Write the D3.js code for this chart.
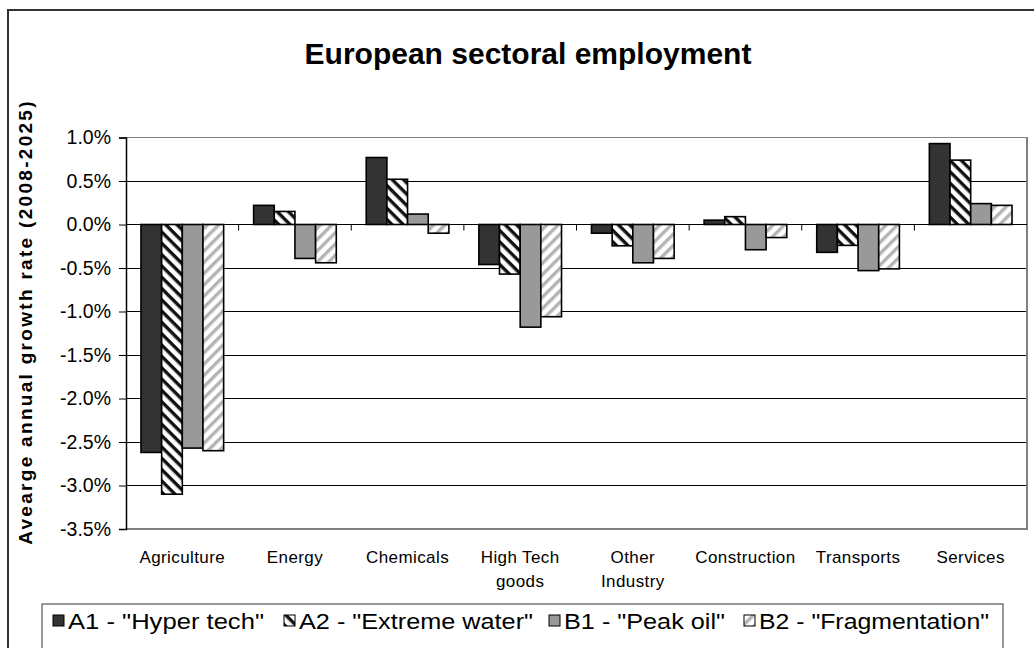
<!DOCTYPE html>
<html><head><meta charset="utf-8">
<script src="https://cdn.jsdelivr.net/npm/d3@7"></script>
<style>
html,body{margin:0;padding:0;background:#fff;}
svg{display:block;font-family:"Liberation Sans",Arial,sans-serif;}
</style></head>
<body><svg id="c" width="1034" height="648"></svg>
<script>
const categories = ["Agriculture","Energy","Chemicals","High Tech goods","Other Industry","Construction","Transports","Services"];
const categoryLines = [["Agriculture"],["Energy"],["Chemicals"],["High Tech","goods"],["Other","Industry"],["Construction"],["Transports"],["Services"]];
const seriesNames = ['A1 - "Hyper tech"','A2 - "Extreme water"','B1 - "Peak oil"','B2 - "Fragmentation"'];
const a1 = [-2.62, 0.22, 0.77, -0.46, -0.10, 0.05, -0.32, 0.93];
const a2 = [-3.10, 0.15, 0.52, -0.57, -0.245, 0.09, -0.24, 0.74];
const b1 = [-2.57, -0.39, 0.12, -1.18, -0.44, -0.29, -0.53, 0.24];
const b2 = [-2.60, -0.44, -0.10, -1.06, -0.39, -0.15, -0.51, 0.22];
const yTicks = [1.0, 0.5, 0.0, -0.5, -1.0, -1.5, -2.0, -2.5, -3.0, -3.5];
const title = "European sectoral employment";
const yTitle = "Avearge annual growth rate (2008-2025)";

const series = [a1, a2, b1, b2];
const fills = ["#333333", "url(#pA2)", "#999999", "url(#pB2)"];

const svg = d3.select("#c");
const defs = svg.append("defs");
const pA2 = defs.append("pattern").attr("id","pA2").attr("patternUnits","userSpaceOnUse")
  .attr("width",8).attr("height",8).attr("patternTransform","rotate(45)");
pA2.append("rect").attr("width",8).attr("height",8).attr("fill","#fff");
pA2.append("rect").attr("width",8).attr("height",3.4).attr("fill","#111");
const pB2 = defs.append("pattern").attr("id","pB2").attr("patternUnits","userSpaceOnUse")
  .attr("width",8).attr("height",8).attr("patternTransform","rotate(-45)");
pB2.append("rect").attr("width",8).attr("height",8).attr("fill","#fff");
pB2.append("rect").attr("width",8).attr("height",3.4).attr("fill","#b4b4b4");

svg.append("rect").attr("x",8).attr("y",10).attr("width",1040).attr("height",660)
  .attr("fill","none").attr("stroke","#333").attr("stroke-width",2);

const pLeft = 126, pRight = 1027, pTop = 137.5, pBottom = 529;
const x = d3.scaleBand().domain(categories).range([pLeft, pRight]).paddingInner(0.266).paddingOuter(0.133);
const xs = d3.scaleBand().domain(d3.range(4)).range([0, x.bandwidth()]);
const y = d3.scaleLinear().domain([-3.5, 1.0]).range([pBottom, pTop]);

svg.append("text").attr("x",528).attr("y",64).attr("text-anchor","middle")
  .attr("font-size",30).attr("font-weight","bold").attr("fill","#000").text(title);

svg.append("g").selectAll("line").data(yTicks.filter(d => d > -3.5 && d < 1.0)).join("line")
  .attr("x1",pLeft).attr("x2",pRight).attr("y1",d=>y(d)).attr("y2",d=>y(d))
  .attr("stroke","#000").attr("stroke-width",1).attr("shape-rendering","crispEdges");
svg.append("path").attr("d",`M${pLeft},${pTop}H${pRight}V${pBottom}H${pLeft}`)
  .attr("fill","none").attr("stroke","#808080").attr("stroke-width",1.5).attr("shape-rendering","crispEdges");

const groups = svg.append("g").selectAll("g").data(series).join("g")
  .attr("fill",(d,i)=>fills[i]);
groups.each(function(vals, si){
  d3.select(this).selectAll("rect").data(vals).join("rect")
    .attr("x",(d,ci)=>x(categories[ci]) + xs(si))
    .attr("width",xs.bandwidth())
    .attr("y",d=>y(Math.max(0,d)))
    .attr("height",d=>Math.abs(y(d)-y(0)))
    .attr("stroke","#000").attr("stroke-width",1.6);
});

const yAxis = d3.axisLeft(y).tickValues(yTicks).tickSize(7)
  .tickFormat(d => d3.format(".1f")(d).replace("\u2212","-") + "%");
const ga = svg.append("g").attr("transform",`translate(${pLeft},0)`).call(yAxis);
ga.select(".domain").attr("stroke","#000").attr("stroke-width",1.5);
ga.selectAll(".tick line").attr("stroke","#000");
ga.selectAll(".tick text").attr("font-size",19.5).attr("fill","#000").attr("font-family","Liberation Sans, Arial, sans-serif").attr("x",-15);

const bounds = d3.range(1, categories.length).map(i => pLeft + i * x.step());
svg.append("g").selectAll("line").data(bounds).join("line")
  .attr("x1",d=>d).attr("x2",d=>d).attr("y1",y(0)).attr("y2",y(0)+6)
  .attr("stroke","#000").attr("stroke-width",1);
svg.append("line").attr("x1",pLeft).attr("x2",pRight).attr("y1",y(0)).attr("y2",y(0))
  .attr("stroke","#000").attr("stroke-width",1.2);

const cl = svg.append("g").selectAll("text").data(categories).join("text")
  .attr("text-anchor","middle").attr("font-size",17).attr("fill","#000")
  .attr("letter-spacing","0.4")
  .attr("x",d=>x(d)+x.bandwidth()/2).attr("y",563);
cl.each(function(d,i){
  d3.select(this).selectAll("tspan").data(categoryLines[i]).join("tspan")
    .attr("x",x(d)+x.bandwidth()/2).attr("dy",(t,j)=>j===0?0:24).text(t=>t);
});

svg.append("text").attr("transform","translate(32,322) rotate(-90)")
  .attr("text-anchor","middle").attr("font-size",19).attr("font-weight","bold")
  .attr("letter-spacing","2.3").attr("fill","#000").text(yTitle);

const lg = svg.append("g");
lg.append("rect").attr("x",42).attr("y",604).attr("width",961).attr("height",60)
  .attr("fill","#fff").attr("stroke","#555").attr("stroke-width",1.2);
const legX = [53, 284, 549, 744];
const legW = [196, 234, 161, 230];
const li = lg.selectAll("g.it").data(seriesNames).join("g").attr("class","it")
  .attr("transform",(d,i)=>`translate(${legX[i]},0)`);
li.append("rect").attr("x",0).attr("y",615).attr("width",11).attr("height",11)
  .attr("fill",(d,i)=>fills[i]).attr("stroke","#000").attr("stroke-width",1);
li.append("text").attr("x",15).attr("y",629).attr("font-size",21.5).attr("fill","#000")
  .attr("textLength",(d,i)=>legW[i]).attr("lengthAdjust","spacingAndGlyphs").text(d=>d);
</script></body></html>
